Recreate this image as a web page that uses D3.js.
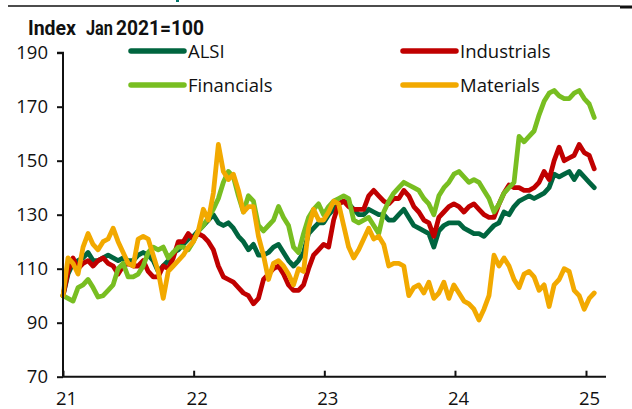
<!DOCTYPE html>
<html><head><meta charset="utf-8">
<script src="https://cdn.jsdelivr.net/npm/d3@7"></script>
<style>
html,body{margin:0;padding:0;background:#fff;}
svg{display:block;}
</style></head>
<body>
<svg id="c" width="632" height="409"></svg>
<script>
// Bi-weekly index values, Jan 2021 = 100
const startDate = "2021-01-01";
const stepDays = 14;
const seriesNames = ["ALSI", "Industrials", "Financials", "Materials"];
const seriesColors = ["#00653f", "#c00000", "#78be21", "#f2a900"];
const alsi = [100,108,112,113,114,116,113,113,114,115,114,113,114,113,113,115,116,115,113,109,
  111,113,116,117,119,121,122,124,126,128,130,127,126,127,125,122,120,117,119,115,
  115,116,118,119,116,113,111,113,116,123,125,127,127,130,132,134,135,134,132,130,
  130,132,131,130,130,128,128,130,132,129,126,125,124,123,118,124,126,127,127,127,
  125,124,123,123,122,124,126,127,131,130,133,135,136,137,136,137,138,140,145,144,
  145,146,143,146,144,142,140];
const industrials = [100,109,114,110,112,113,111,113,114,112,111,108,111,112,111,111,113,109,107,107,
  111,110,114,120,120,123,121,123,122,120,117,111,107,106,105,103,101,100,97,99,
  106,108,110,111,108,104,102,102,104,110,115,117,119,118,128,134,135,133,132,132,
  132,137,139,137,135,134,136,136,139,137,133,131,128,127,122,129,131,133,134,133,
  131,133,134,132,130,129,129,134,138,141,140,140,139,139,140,142,146,143,150,155,
  150,151,152,156,153,152,147];
const financials = [100,99,98,103,104,106,103,99.5,100,102,104,110,112,107,107,108,111,116,118,117,
  118,114,116,118,118,117,120,124,126,129,132,136,142,146,144,137,131,137,135,126,
  124,126,128,133,129,126,118,116,123,129,132,134,130,133,135,136,137,136,128,127,
  128,129,126,123,131,135,138,140,142,141,140,139,136,134,130,137,140,142,145,146,
  144,142,143,142,139,136,131,134,138,140,142,159,157,159,161,167,172,175,176,174,
  173,173,175,176,173,171,166];
const materials = [100,114,112,108,118,123,119,117,120,121,125,120,116,112,111,121,122,121,115,109,
  99,109,111,113,115,118,120,124,132,128,138,156,146,143,145,139,131,133,133,122,
  115,106,112,113,111,108,104,110,109,125,132,128,128,131,135,134,126,118,114,117,
  121,125,121,122,119,111,112,112,111,100,103,104,101,105,99,101,105,99,104,101,
  98,97,95,91,95,100,115,111,114,111,106,103,108,109,107,102,104,96,104,106,
  110,109,102,100,95,99,101];
const seriesValues = [alsi, industrials, financials, materials];
const yTicks = [70, 90, 110, 130, 150, 170, 190];
const xTickYears = ["2021", "2022", "2023", "2024", "2025"];
const unitLabelParts = ["Index", "Jan", "2021=100"];

const svg = d3.select("#c");
const t0 = d3.timeParse("%Y-%m-%d")(startDate);
const dates = alsi.map((_, i) => d3.timeDay.offset(t0, stepDays * i));

const x = d3.scaleTime()
  .domain([new Date(2021, 0, 1), new Date(2025, 0, 1)])
  .range([63, 586]);
const y = d3.scaleLinear().domain([70, 190]).range([376.7, 52.7]);

const tickFont = "'Open Sans', 'Noto Sans', sans-serif";

// top decoration rule
svg.append("line").attr("x1", 8).attr("x2", 620).attr("y1", 6).attr("y2", 6)
  .attr("stroke", "#111").attr("stroke-width", 1.4);
svg.append("rect").attr("x", 620).attr("y", 5.5).attr("width", 12).attr("height", 3).attr("fill", "#111");
svg.append("rect").attr("x", 176).attr("y", 0).attr("width", 3).attr("height", 2).attr("fill", "#00756a");

// unit label
const titleX = [28, 86, 116], titleW = [48, 27, 88];
const title = svg.append("text").attr("y", 35)
  .attr("font-family", "Roboto, 'Liberation Sans', sans-serif")
  .attr("font-weight", "bold").attr("font-size", 20).attr("fill", "#111");
unitLabelParts.forEach((s, i) => {
  title.append("tspan").attr("x", titleX[i]).attr("textLength", titleW[i])
    .attr("lengthAdjust", "spacingAndGlyphs").text(s);
});

// lines
const line = d3.line().x((d, i) => x(dates[i])).y(d => y(d)).curve(d3.curveLinear);
seriesValues.forEach((vals, k) => {
  svg.append("path").datum(vals)
    .attr("fill", "none").attr("stroke", seriesColors[k])
    .attr("stroke-width", 4.8).attr("stroke-linejoin", "round").attr("stroke-linecap", "round")
    .attr("d", line);
});

// y axis
const yAxis = svg.append("g").attr("transform", "translate(63,0)")
  .call(d3.axisLeft(y).tickValues(yTicks).tickSize(6).tickPadding(9).tickFormat(d3.format("d")));
yAxis.select(".domain").attr("stroke", "#111").attr("stroke-width", 2).attr("d", "M-6,52.7H0V376.7");
yAxis.selectAll(".tick line").attr("stroke", "#111").attr("stroke-width", 2);
yAxis.selectAll("text").attr("font-family", tickFont).attr("font-size", 18.5).attr("fill", "#111");

// x axis
const xAxis = svg.append("g").attr("transform", "translate(0,376.7)")
  .call(d3.axisBottom(x).tickValues(xTickYears.map(s => new Date(+s, 0, 1)))
    .tickSize(-6).tickPadding(15).tickFormat(d3.timeFormat("%y")));
xAxis.select(".domain").attr("stroke", "#111").attr("stroke-width", 2).attr("d", "M62,0H606");
xAxis.selectAll(".tick line").attr("stroke", "#111").attr("stroke-width", 2);
xAxis.selectAll("text").attr("font-family", tickFont).attr("font-size", 18.5).attr("fill", "#111")
  .attr("dx", 3);

// legend
const legPos = [[128, 51], [400, 51], [128, 85], [400, 85]];
seriesNames.forEach((name, k) => {
  const [lx, ly] = legPos[k];
  svg.append("line").attr("x1", lx + 3).attr("x2", lx + 56).attr("y1", ly).attr("y2", ly)
    .attr("stroke", seriesColors[k]).attr("stroke-width", 5.5).attr("stroke-linecap", "round");
  svg.append("text").attr("x", lx + 60).attr("y", ly).attr("dy", "0.36em")
    .attr("font-family", tickFont).attr("font-size", 18.5).attr("fill", "#111").text(name);
});
</script>
</body></html>
